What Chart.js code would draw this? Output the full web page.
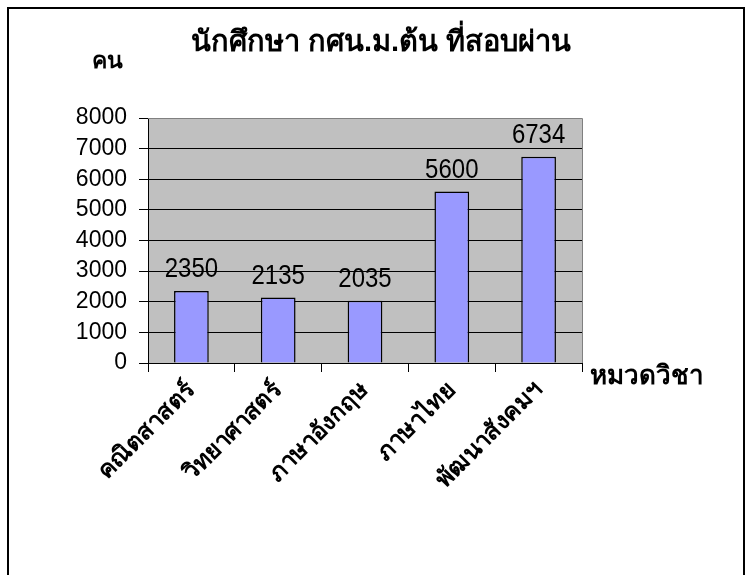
<!DOCTYPE html>
<html>
<head>
<meta charset="utf-8">
<script src="https://cdn.jsdelivr.net/npm/chart.js@4"></script>
<style>
  html, body { margin: 0; padding: 0; background: #fff; }
  #wrap { position: relative; width: 750px; height: 575px; }
  #frame { position: absolute; left: 7px; top: 7px; width: 734px; height: 600px; border: 2px solid #000; }
  canvas { position: absolute; left: 0; top: 0; }
</style>
</head>
<body>
<div id="wrap">
  <div id="frame"></div>
  <canvas id="myChart" width="750" height="575"></canvas>
</div>
<script>
var categories = ['คณิตสาสตร์', 'วิทยาศาสตร์', 'ภาษาอังกฤษ', 'ภาษาไทย', 'พัฒนาสังคมฯ'];
var passed = [2350, 2135, 2035, 5600, 6734];
var yMin = 0, yMax = 8000, yStep = 1000;

var chartTitle = 'นักศึกษา กศน.ม.ต้น ที่สอบผ่าน';
var yTitle = 'คน';
var xTitle = 'หมวดวิชา';

var FONT = "'Liberation Sans', Arial, sans-serif";

// grey plot area, grey top/right edges
var plotBox = {
    id: 'plotBox',
    beforeDraw: function (chart) {
        var a = chart.chartArea, c = chart.ctx;
        c.save();
        c.fillStyle = '#c0c0c0';
        c.fillRect(a.left, a.top, a.right - a.left, a.bottom - a.top);
        c.restore();
    },
    afterDraw: function (chart) {
        var a = chart.chartArea, c = chart.ctx;
        c.save();
        c.strokeStyle = '#808080';
        c.lineWidth = 1;
        c.beginPath();
        c.moveTo(a.left, a.top + 0.5);
        c.lineTo(a.right + 0.5, a.top + 0.5);
        c.lineTo(a.right + 0.5, a.bottom);
        c.stroke();
        c.restore();
    }
};

// value labels and the free-standing titles
var texts = {
    id: 'texts',
    afterDraw: function (chart) {
        var c = chart.ctx;
        var meta = chart.getDatasetMeta(0);
        c.save();
        c.fillStyle = '#000';
        c.textAlign = 'center';
        c.textBaseline = 'alphabetic';
        c.font = '24px ' + FONT;
        meta.data.forEach(function (bar, i) {
            // reference digits are a little taller than wide
            c.save();
            c.translate(bar.x, bar.y - 14);
            c.scale(1, 1.12);
            c.fillText(String(passed[i]), 0, 0);
            c.restore();
        });
        c.textBaseline = 'middle';
        c.font = 'bold 29px ' + FONT;
        c.fillText(chartTitle, 381, 43);
        c.textAlign = 'left';
        c.font = 'bold 23px ' + FONT;
        c.fillText(yTitle, 92, 62);
        c.font = 'bold 26px ' + FONT;
        c.fillText(xTitle, 590, 377);
        c.restore();
    }
};

var ctx = document.getElementById('myChart').getContext('2d');
var myChart = new Chart(ctx, {
    type: 'bar',
    data: {
        labels: categories,
        datasets: [{
            data: passed,
            backgroundColor: '#9999ff',
            borderColor: '#000',
            borderWidth: 1.5,
            borderSkipped: 'bottom',
            barPercentage: 0.4,
            categoryPercentage: 1
        }]
    },
    options: {
        responsive: false,
        animation: false,
        layout: {
            padding: { left: 40, top: 118, right: 168, bottom: 0 }
        },
        plugins: {
            legend: { display: false },
            title: { display: false },
            tooltip: { enabled: false }
        },
        scales: {
            x: {
                offset: true,
                grid: {
                    offset: true,
                    drawOnChartArea: false,
                    drawTicks: true,
                    tickLength: 9,
                    tickColor: '#000'
                },
                border: { color: '#000', width: 1 },
                ticks: {
                    color: '#000',
                    maxRotation: 45,
                    minRotation: 45,
                    padding: 4,
                    font: { family: FONT, size: 24, weight: 'bold' }
                },
                afterFit: function (s) { s.height = 212; }
            },
            y: {
                min: yMin,
                max: yMax,
                ticks: {
                    stepSize: yStep,
                    color: '#000',
                    padding: 12,
                    font: { family: FONT, size: 23 },
                    callback: function (v) { return String(v); }
                },
                grid: {
                    color: function (c) { return c.tick && c.tick.value === yMax ? '#808080' : '#000'; },
                    tickColor: '#000',
                    tickLength: 9
                },
                border: { color: '#000', width: 1 },
                afterFit: function (s) { s.width = 108; }
            }
        }
    },
    plugins: [plotBox, texts]
});
</script>
</body>
</html>
